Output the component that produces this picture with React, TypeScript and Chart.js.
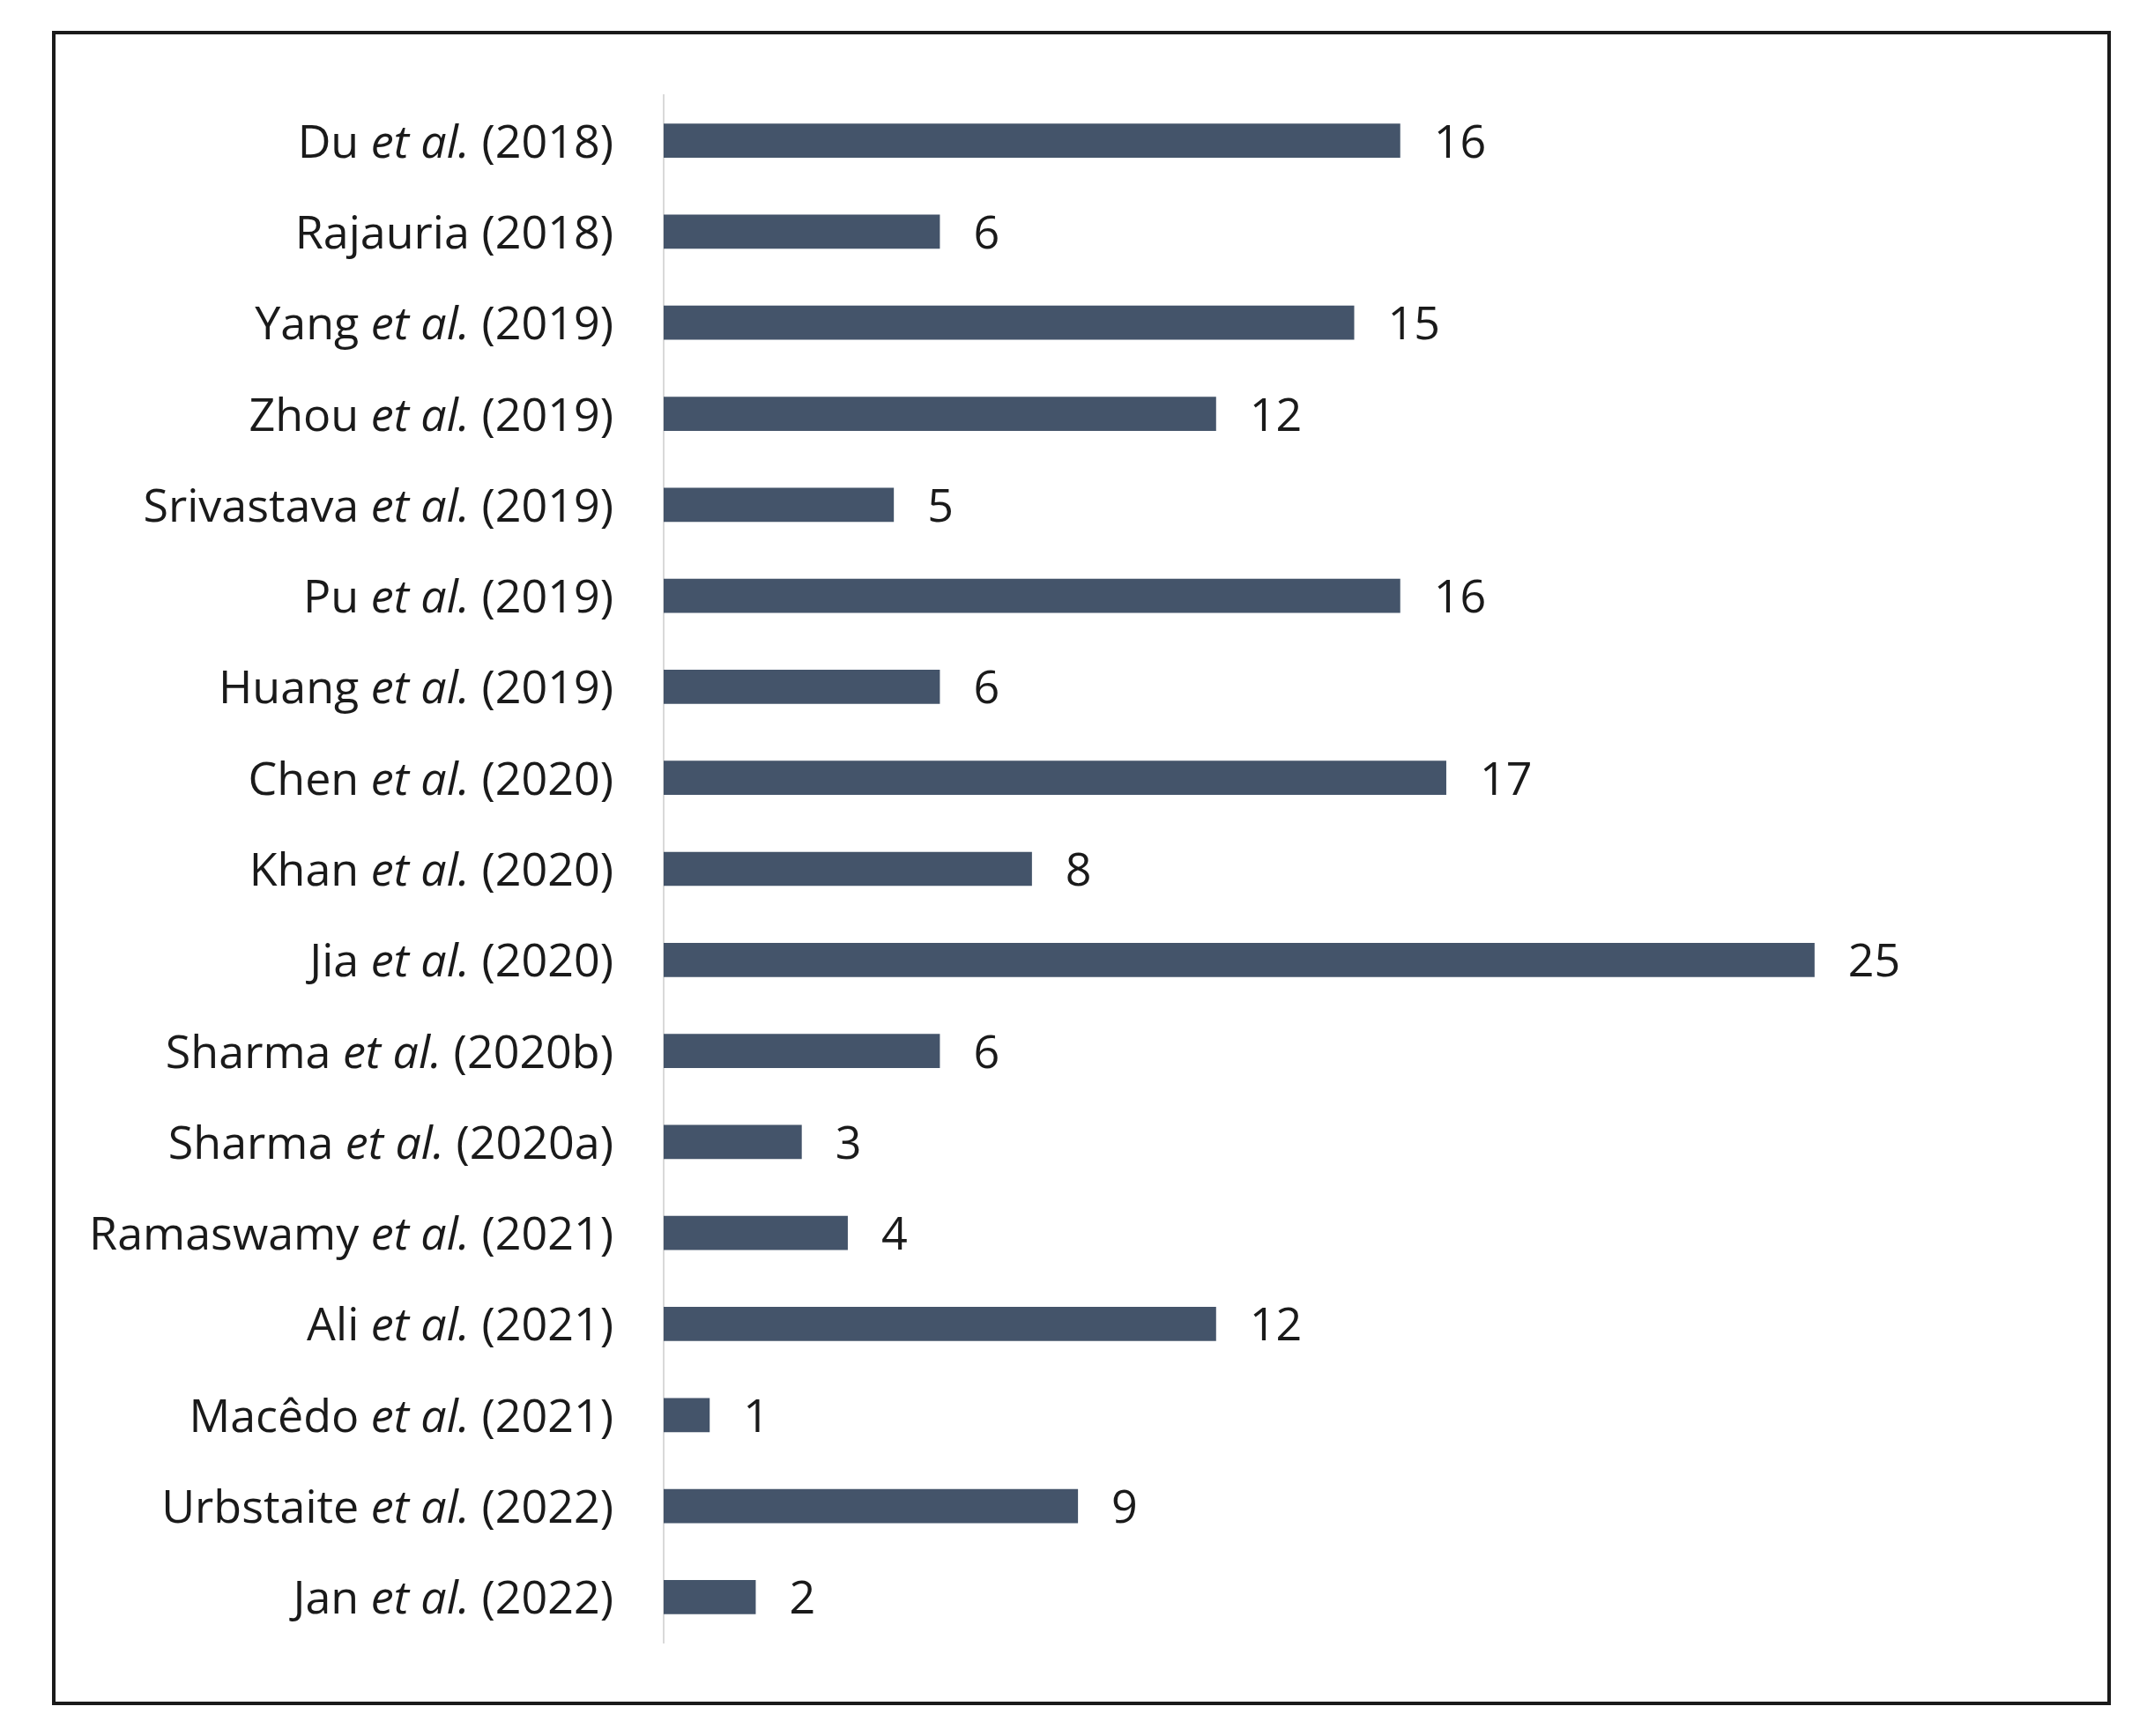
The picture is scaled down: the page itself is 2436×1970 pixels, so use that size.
import { useEffect, useRef } from "react";
import { Chart, registerables } from "chart.js";

Chart.register(...registerables);

const categories = [
  "Du et al. (2018)",
  "Rajauria (2018)",
  "Yang et al. (2019)",
  "Zhou et al. (2019)",
  "Srivastava et al. (2019)",
  "Pu et al. (2019)",
  "Huang et al. (2019)",
  "Chen et al. (2020)",
  "Khan et al. (2020)",
  "Jia et al. (2020)",
  "Sharma et al. (2020b)",
  "Sharma et al. (2020a)",
  "Ramaswamy et al. (2021)",
  "Ali et al. (2021)",
  "Macêdo et al. (2021)",
  "Urbstaite et al. (2022)",
  "Jan et al. (2022)",
];

const values = [16, 6, 15, 12, 5, 16, 6, 17, 8, 25, 6, 3, 4, 12, 1, 9, 2];

const FONT_FAMILY = '"Open Sans", sans-serif';
const FONT_SIZE = 52;
const TEXT_COLOR = "#1a1a1a";
const BAR_COLOR = "#44546a";
const AXIS_COLOR = "#d9d9d9";

function splitLabel(label: string) {
  const key = "et al.";
  const idx = label.indexOf(key);
  if (idx < 0) return [{ text: label, italic: false }];
  return [
    { text: label.slice(0, idx), italic: false },
    { text: key, italic: true },
    { text: label.slice(idx + key.length), italic: false },
  ];
}

export default function App() {
  const ref = useRef<HTMLCanvasElement>(null);

  useEffect(() => {
    if (!ref.current) return;

    const richLabels = {
      id: "richLabels",
      afterDatasetsDraw(chart: any) {
        const ctx = chart.ctx as CanvasRenderingContext2D;
        const yScale = chart.scales.y;
        const area = chart.chartArea;
        ctx.save();
        ctx.fillStyle = TEXT_COLOR;
        ctx.textBaseline = "alphabetic";
        ctx.textAlign = "left";
        const normal = `${FONT_SIZE}px ${FONT_FAMILY}`;
        const italic = `italic ${FONT_SIZE}px ${FONT_FAMILY}`;
        categories.forEach((lab, i) => {
          const cy = yScale.getPixelForValue(i) + 19;
          const parts = splitLabel(lab);
          let total = 0;
          const widths = parts.map((p) => {
            ctx.font = p.italic ? italic : normal;
            const w = ctx.measureText(p.text).width;
            total += w;
            return w;
          });
          let x = area.left - 57 - total;
          parts.forEach((p, k) => {
            ctx.font = p.italic ? italic : normal;
            ctx.fillText(p.text, x, cy);
            x += widths[k];
          });
        });
        const meta = chart.getDatasetMeta(0);
        ctx.font = normal;
        meta.data.forEach((bar: any, i: number) => {
          ctx.fillText(String(values[i]), bar.x + 38, bar.y + 19);
        });
        ctx.restore();
      },
    };

    const chart = new Chart(ref.current, {
      type: "bar",
      data: {
        labels: categories,
        datasets: [
          {
            data: values,
            backgroundColor: BAR_COLOR,
            borderWidth: 0,
            barPercentage: 0.375,
            categoryPercentage: 1,
          },
        ],
      },
      options: {
        indexAxis: "y",
        animation: false,
        responsive: false,
        devicePixelRatio: 1,
        layout: { padding: { left: 0, top: 108, bottom: 106, right: 116 } },
        plugins: {
          legend: { display: false },
          tooltip: { enabled: false },
        },
        scales: {
          x: { display: false, min: 0, max: 30 },
          y: {
            ticks: { display: false },
            grid: { display: false, drawTicks: false },
            border: { display: true, color: AXIS_COLOR, width: 2 },
            afterFit: (s: any) => {
              s.width = 753;
            },
          },
        },
      },
      plugins: [richLabels],
    });

    return () => chart.destroy();
  }, []);

  return (
    <div style={{ position: "absolute", left: 0, top: 0, width: 2436, height: 1970, background: "#fff" }}>
      <canvas
        ref={ref}
        width={2436}
        height={1970}
        style={{ position: "absolute", left: 0, top: 0, width: 2436, height: 1970, display: "block" }}
      />
      <div
        style={{
          position: "absolute",
          left: 59,
          top: 35,
          width: 2336,
          height: 1900,
          border: "4px solid #1a1a1a",
          boxSizing: "border-box",
          pointerEvents: "none",
        }}
      />
    </div>
  );
}
